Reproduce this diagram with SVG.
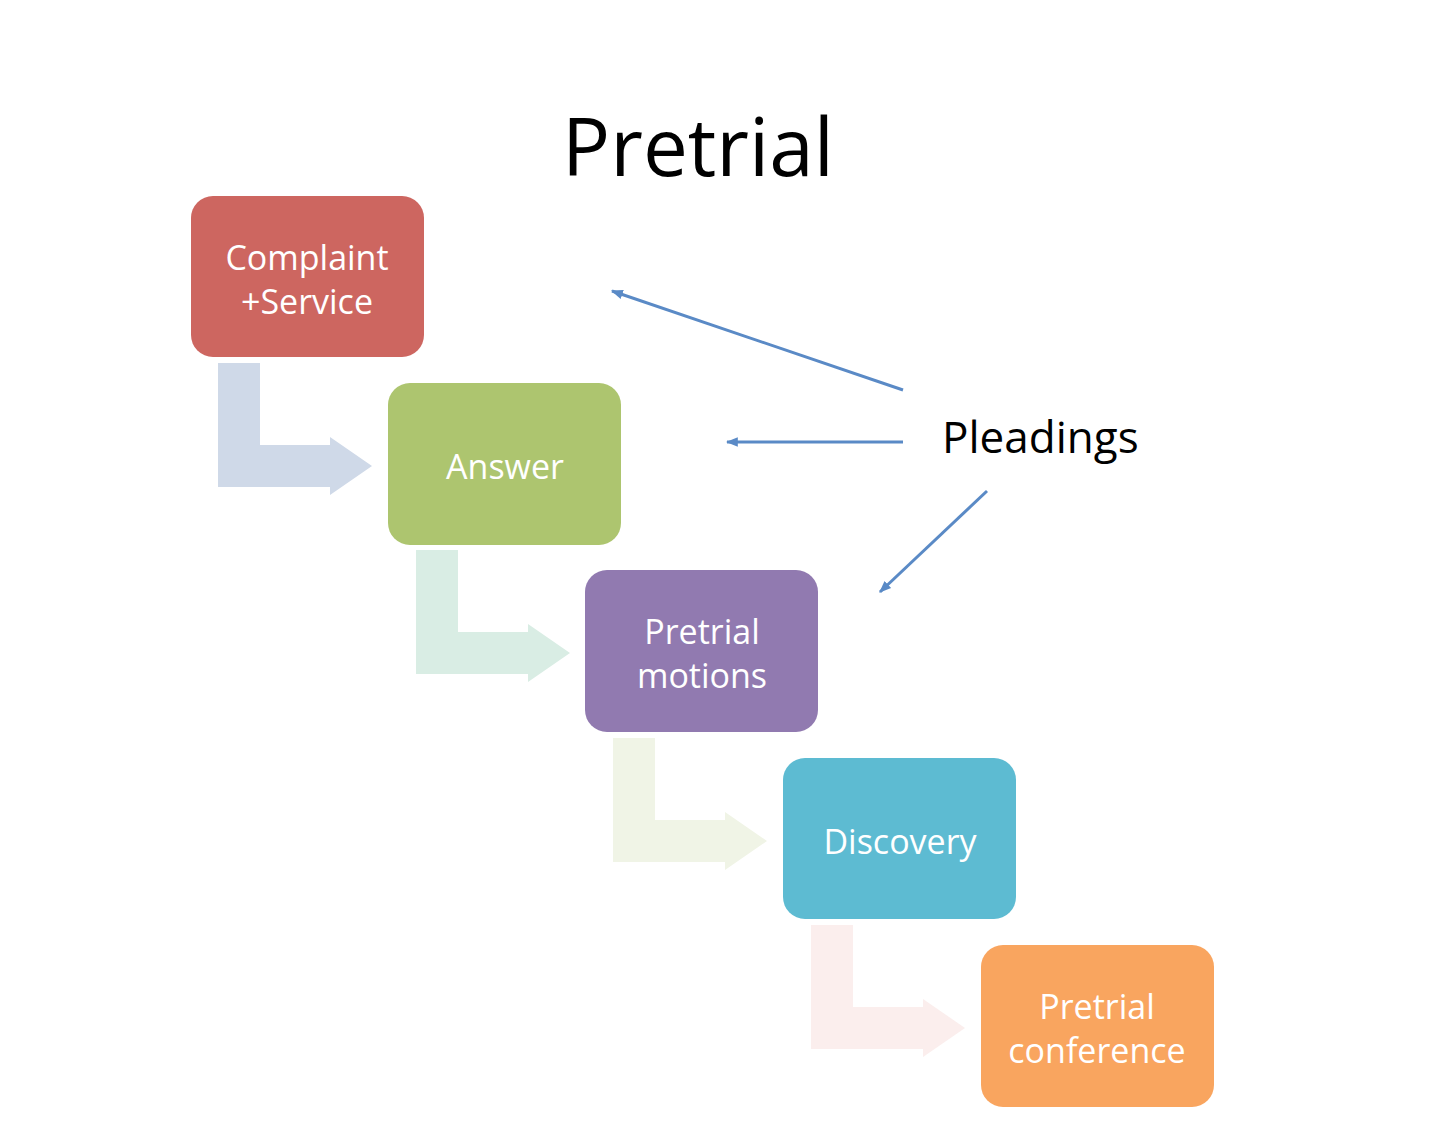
<svg xmlns="http://www.w3.org/2000/svg" width="1440" height="1140" viewBox="0 0 1440 1140">
<style>
.n{font-family:"Open Sans","Noto Sans",sans-serif;font-size:34px;fill:#fff;text-anchor:middle}
.l{stroke:#5a8ac6;stroke-width:3;fill:none}
</style>
<defs>
<marker id="a" viewBox="0 0 10 10" refX="9" refY="5" markerWidth="4" markerHeight="4" orient="auto"><path d="M0,1L10,5L0,9z" fill="#5a8ac6"/></marker>
<path id="bend" d="M0,0H42V82H112V74L154,103L112,132V124H0Z"/>
</defs>
<rect width="1440" height="1140" fill="#fff"/>
<text x="698" y="176" font-family="Open Sans,Noto Sans,sans-serif" font-size="80" text-anchor="middle">Pretrial</text>
<g id="bends">
<use href="#bend" x="218" y="363" fill="#cfd9e8"/>
<use href="#bend" x="416" y="550" fill="#d9ede4"/>
<use href="#bend" x="613" y="738" fill="#f0f4e6"/>
<use href="#bend" x="811" y="925" fill="#fbeeed"/>
</g>
<g id="complaint"><rect x="191" y="196" width="233" height="161" rx="22" fill="#cd6660"/><text class="n" x="307" y="270">Complaint</text><text class="n" x="307" y="314">+Service</text></g>
<g id="answer"><rect x="388" y="383" width="233" height="162" rx="22" fill="#adc56f"/><text class="n" x="505" y="479">Answer</text></g>
<g id="motions"><rect x="585" y="570" width="233" height="162" rx="22" fill="#917ab0"/><text class="n" x="702" y="644">Pretrial</text><text class="n" x="702" y="688">motions</text></g>
<g id="discovery"><rect x="783" y="758" width="233" height="161" rx="22" fill="#5dbbd2"/><text class="n" x="900" y="854">Discovery</text></g>
<g id="conference"><rect x="981" y="945" width="233" height="162" rx="22" fill="#f9a55f"/><text class="n" x="1097" y="1019">Pretrial</text><text class="n" x="1097" y="1063">conference</text></g>
<g id="pleadings"><text x="942" y="453" font-family="Open Sans,Noto Sans,sans-serif" font-size="44">Pleadings</text></g>
<g id="connectors">
<line class="l" x1="903" y1="390" x2="612" y2="291" marker-end="url(#a)"/>
<line class="l" x1="903" y1="442" x2="727" y2="442" marker-end="url(#a)"/>
<line class="l" x1="987" y1="491" x2="880" y2="592" marker-end="url(#a)"/>
</g>
</svg>
